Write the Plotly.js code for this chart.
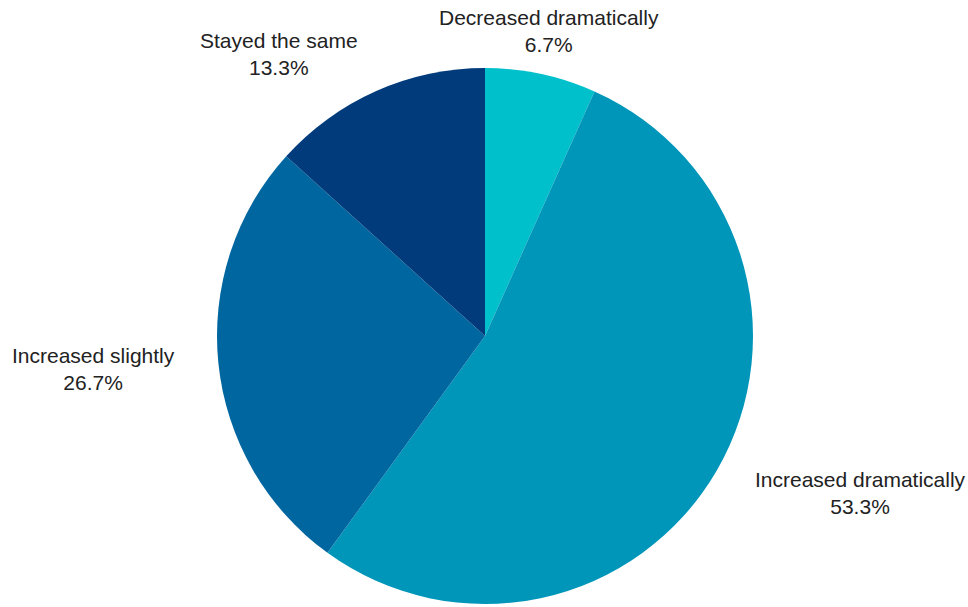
<!DOCTYPE html>
<html>
<head>
<meta charset="utf-8">
<script src="https://cdn.plot.ly/plotly-3.0.1.min.js"></script>
<style>html,body{margin:0;padding:0;background:#fff;}#chart{width:968px;height:607px;}</style>
</head>
<body>
<div id="chart"></div>
<script>
var categories = ["Decreased dramatically", "Increased dramatically", "Increased slightly", "Stayed the same"];
var values = [6.7, 53.3, 26.7, 13.3];
var colors = ["#00C0CC", "#0096BA", "#0066A0", "#023B7B"];

// label block centres in pixels (layout only)
var labelPos = [[549, 31], [860, 493], [93, 369], [279, 54]];

var M = {l: 217, r: 215, t: 68, b: 3};
var W = 968, H = 607;
var pw = W - M.l - M.r, ph = H - M.t - M.b;

var total = values.reduce(function (a, b) { return a + b; }, 0);
var annotations = categories.map(function (c, i) {
  var pct = (values[i] / total * 100).toFixed(1) + "%";
  return {
    xref: "paper", yref: "paper",
    x: (labelPos[i][0] - M.l) / pw,
    y: (H - M.b - labelPos[i][1]) / ph,
    xanchor: "center", yanchor: "middle",
    text: c + "<br>" + pct,
    showarrow: false,
    align: "center",
    font: {family: "Liberation Sans, Arial, sans-serif", size: 21, color: "#222"}
  };
});

var trace = {
  type: "pie",
  labels: categories,
  values: values,
  sort: false,
  direction: "clockwise",
  rotation: 0,
  marker: {colors: colors, line: {width: 0}},
  textinfo: "none",
  hoverinfo: "none",
  showlegend: false
};

var layout = {
  width: W, height: H,
  margin: M,
  paper_bgcolor: "#fff",
  font: {family: "Liberation Sans, Arial, sans-serif", size: 21, color: "#222"},
  showlegend: false,
  annotations: annotations
};

Plotly.newPlot("chart", [trace], layout, {staticPlot: true});
</script>
</body>
</html>
